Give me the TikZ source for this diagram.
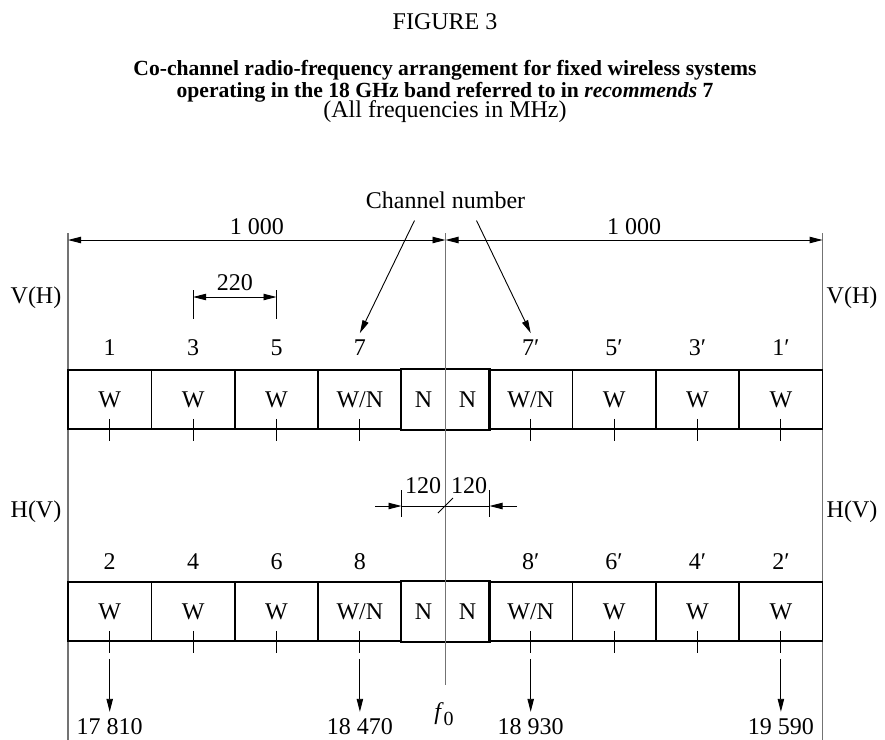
\documentclass[tikz,border=0pt]{standalone}
\usepackage{fontspec}
\setmainfont{Liberation Serif}
\usetikzlibrary{arrows.meta,calc,positioning}

\begin{document}
\begin{tikzpicture}[x=0.5pt,y=-0.5pt,>={Triangle[length=6.5pt,width=3.2pt]},
  font=\fontsize{12}{14}\selectfont,
  cell/.style={line width=0.8pt,minimum height=29.5pt,inner sep=0pt},
  wcell/.style={cell,draw,minimum width=41.7pt},
  ncell/.style={cell,minimum width=22pt},
  thin/.style={line width=0.45pt},
  guide/.style={line width=0.6pt,black!55}]
  \useasboundingbox (0,0) rectangle (885,740);

  % heading
  \node (fig) at (445,22) {FIGURE 3};
  \node[font=\fontsize{10.8}{11.2}\selectfont\bfseries,align=center] (ttl) at (445,81)
    {Co-channel radio-frequency arrangement for fixed wireless systems\\
     operating in the 18 GHz band referred to in \textit{recommends} 7};
  \node (unit) at (445,112) {(All frequencies in MHz)};

  % band edges and centre frequency
  \coordinate (Lt) at (68,233);    \coordinate (Lb) at (68,740);
  \coordinate (Rt) at (822.6,233); \coordinate (Rb) at (822.6,740);
  \coordinate (Ct) at (445.5,233); \coordinate (Cb) at (445.5,685);
  \draw[guide] (Lt) -- (Lb);
  \draw[guide] (Rt) -- (Rb);

  \node (vhl) at (36,298) {V(H)};  \node (vhr) at (852,298) {V(H)};
  \node (hvl) at (36,512) {H(V)};  \node (hvr) at (852,512) {H(V)};

  % 1000 MHz half bands
  \draw[thin,<->] (68,240) -- (445.5,240) node[midway,above=-1pt] (dl) {1 000};
  \draw[thin,<->] (445.5,240) -- (822.6,240) node[midway,above=-1pt] (dr) {1 000};

  % upper row (1 ... 7, 7' ... 1')
  \foreach \n/\cx/\lab/\num in {1/109.7/W/1, 3/193.1/W/3, 5/276.5/W/5, 7/359.9/{W/N}/7,
      7r/530.7/{W/N}/7′, 5r/614.1/W/5′, 3r/697.5/W/3′, 1r/780.9/W/1′}{
    \node[wcell] (v\n) at (\cx,399.5) {\lab};
    \node (nv\n) at (\cx,348) {\num};
    \draw[thin] ($(v\n.south)+(0,-11)$) -- ($(v\n.south)+(0,11)$);
  }
  \node[ncell] (vN) at (423.5,399.5) {N};
  \node[ncell] (vNr) at (467.5,399.5) {N};
  \draw[line width=0.8pt] (vN.north west) rectangle (vNr.south east);

  % lower row (2 ... 8, 8' ... 2')
  \foreach \n/\cx/\lab/\num in {2/109.7/W/2, 4/193.1/W/4, 6/276.5/W/6, 8/359.9/{W/N}/8,
      8r/530.7/{W/N}/8′, 6r/614.1/W/6′, 4r/697.5/W/4′, 2r/780.9/W/2′}{
    \node[wcell] (h\n) at (\cx,611.5) {\lab};
    \node (nh\n) at (\cx,562) {\num};
    \draw[thin] ($(h\n.south)+(0,-11)$) -- ($(h\n.south)+(0,11)$);
  }
  \node[ncell] (hN) at (423.5,611.5) {N};
  \node[ncell] (hNr) at (467.5,611.5) {N};
  \draw[line width=0.8pt] (hN.north west) rectangle (hNr.south east);

  \draw[guide] (Ct) -- (Cb);
  \node (f0) at (444,714) {\textit{f}\raisebox{-0.55ex}{\fontsize{10}{12}\selectfont 0}};

  % Channel number pointers
  \node (chn) at (445.5,200) {Channel number};
  \draw[thin,->] ($(chn.south)+(-31,5)$) -- (nv7.north);
  \draw[thin,->] ($(chn.south)+(31,5)$) -- (nv7r.north);

  % 220 MHz spacing
  \draw[thin] (193.1,290) -- (193.1,319);
  \draw[thin] (276.5,290) -- (276.5,319);
  \draw[thin,<->] (193.1,297) -- (276.5,297);
  \node (d220) at (234.8,283) {220};

  % 120 MHz centre gap
  \coordinate (gl) at (401.5,506); \coordinate (gr) at (489.5,506);
  \draw[thin] (401.5,490) -- (401.5,517);
  \draw[thin] (489.5,490) -- (489.5,517);
  \draw[thin] (gl) -- (gr);
  \draw[thin,->] (375,506) -- (gl);
  \draw[thin,->] (517,506) -- (gr);
  \draw[thin] (438,513) -- (453,498);
  \node (d120l) at (423,486) {120};
  \node (d120r) at (469,486) {120};

  % band limit frequencies
  \node (f2) at (109.7,727) {17 810};
  \node (f8) at (359.9,727) {18 470};
  \node (f8r) at (530.7,727) {18 930};
  \node (f2r) at (780.9,727) {19 590};
  \foreach \n in {2,8,8r,2r}
    \draw[thin,->] ($(h\n.south)+(0,17)$) -- (f\n.north);
\end{tikzpicture}
\end{document}
